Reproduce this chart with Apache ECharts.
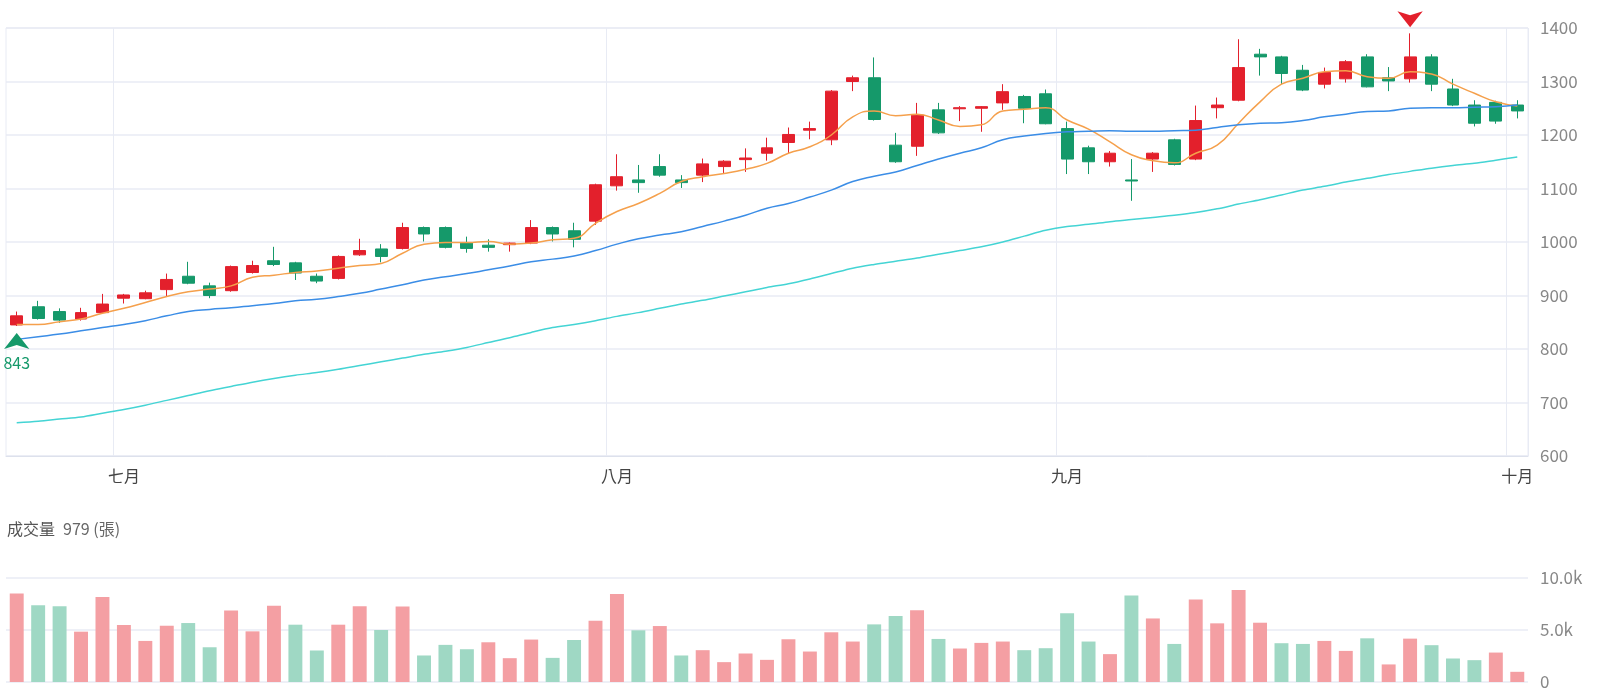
<!DOCTYPE html>
<html>
<head>
<meta charset="utf-8">
<script src="https://cdn.jsdelivr.net/npm/echarts@6/dist/echarts.min.js"></script>
<style>
  html, body { margin: 0; padding: 0; background: #fff; }
  #chart { width: 1600px; height: 700px; }
</style>
</head>
<body>
<div id="chart"></div>
<script>
// trading days, late June .. 1 Oct
const dates = [
  '2025-06-24', '2025-06-25', '2025-06-26', '2025-06-27', '2025-06-30',
  '2025-07-01', '2025-07-02', '2025-07-03', '2025-07-04', '2025-07-07', '2025-07-08', '2025-07-09', '2025-07-10',
  '2025-07-11', '2025-07-14', '2025-07-15', '2025-07-16', '2025-07-17', '2025-07-18', '2025-07-21', '2025-07-22',
  '2025-07-23', '2025-07-24', '2025-07-25', '2025-07-28', '2025-07-29', '2025-07-30', '2025-07-31',
  '2025-08-01', '2025-08-04', '2025-08-05', '2025-08-06', '2025-08-07', '2025-08-08', '2025-08-11', '2025-08-12',
  '2025-08-13', '2025-08-14', '2025-08-15', '2025-08-18', '2025-08-19', '2025-08-20', '2025-08-21', '2025-08-22',
  '2025-08-25', '2025-08-26', '2025-08-27', '2025-08-28', '2025-08-29',
  '2025-09-01', '2025-09-02', '2025-09-03', '2025-09-04', '2025-09-05', '2025-09-08', '2025-09-09', '2025-09-10',
  '2025-09-11', '2025-09-12', '2025-09-15', '2025-09-16', '2025-09-17', '2025-09-18', '2025-09-19', '2025-09-22',
  '2025-09-23', '2025-09-24', '2025-09-25', '2025-09-26', '2025-09-30',
  '2025-10-01'
]

// [open, close, low, high]
const kline = [
  [845, 862, 843, 870], [879, 857, 855, 890], [870, 854, 849, 876], [856, 868, 853, 877], [868, 884, 866, 903],
  [895, 901, 885, 903], [894, 905, 893, 909], [911, 930, 899, 941], [936, 923, 921, 963], [918, 900, 895, 924],
  [909, 954, 907, 956], [943, 956, 941, 965], [965, 958, 955, 991], [961, 942, 929, 963], [936, 927, 923, 941],
  [932, 973, 930, 975], [976, 984, 974, 1006], [987, 973, 962, 996], [988, 1027, 986, 1036], [1027, 1015, 1001, 1029],
  [1027, 990, 988, 1029], [998, 988, 980, 1010], [994, 990, 982, 1005], [995, 998, 982, 999], [998, 1027, 996, 1041],
  [1027, 1015, 1001, 1029], [1021, 1005, 990, 1036], [1039, 1107, 1032, 1109], [1105, 1122, 1096, 1164], [1116, 1111, 1092, 1144],
  [1141, 1125, 1122, 1164], [1116, 1111, 1101, 1125], [1125, 1146, 1112, 1156], [1141, 1151, 1128, 1153], [1154, 1157, 1131, 1175],
  [1166, 1176, 1152, 1195], [1186, 1201, 1166, 1214], [1209, 1212, 1192, 1225], [1191, 1282, 1181, 1284], [1300, 1307, 1282, 1311],
  [1307, 1229, 1227, 1345], [1181, 1150, 1148, 1204], [1179, 1237, 1161, 1260], [1247, 1204, 1202, 1260], [1249, 1251, 1226, 1254],
  [1250, 1253, 1206, 1254], [1260, 1281, 1247, 1295], [1272, 1250, 1222, 1275], [1277, 1221, 1220, 1285], [1212, 1155, 1127, 1225],
  [1176, 1150, 1127, 1180], [1150, 1166, 1141, 1170], [1116, 1114, 1077, 1155], [1155, 1166, 1131, 1168], [1191, 1145, 1143, 1193],
  [1155, 1227, 1153, 1255], [1251, 1256, 1231, 1270], [1265, 1326, 1263, 1379], [1351, 1346, 1311, 1361], [1346, 1315, 1295, 1348],
  [1321, 1284, 1282, 1331], [1295, 1317, 1287, 1326], [1305, 1337, 1298, 1340], [1346, 1290, 1289, 1351], [1307, 1301, 1282, 1327],
  [1305, 1346, 1298, 1390], [1346, 1295, 1282, 1351], [1286, 1256, 1254, 1305], [1256, 1222, 1216, 1265], [1261, 1226, 1221, 1264],
  [1256, 1245, 1231, 1265]
]

const ma5 = [
  846, 846, 851, 856, 867, 876, 887, 898, 907, 912,
  918, 934, 938, 943, 946, 951, 956, 960, 979, 996,
  999, 999, 1001, 996, 998, 1004, 1007, 1035, 1057, 1072,
  1091, 1113, 1122, 1128, 1136, 1147, 1166, 1178, 1200, 1234,
  1245, 1236, 1239, 1228, 1216, 1219, 1245, 1248, 1251, 1228,
  1211, 1187, 1163, 1152, 1148, 1166, 1181, 1222, 1262, 1295,
  1306, 1318, 1320, 1309, 1306, 1318, 1314, 1295, 1278, 1262, 1254
]
const ma20 = [
  818, 823, 828, 834, 840, 846, 853, 862, 870, 874,
  877, 881, 885, 890, 893, 898, 904, 912, 920, 929,
  935, 941, 948, 955, 963, 968, 974, 984, 996, 1006,
  1013, 1019, 1029, 1039, 1050, 1063, 1072, 1084, 1097, 1113,
  1123, 1131, 1143, 1155, 1166, 1176, 1191, 1198, 1203, 1206,
  1207, 1208, 1207, 1207, 1208, 1209, 1214, 1219, 1222, 1223,
  1227, 1234, 1239, 1244, 1245, 1250, 1251, 1251, 1252, 1253, 1256
]
const ma60 = [
  662, 665, 669, 673, 680, 687, 695, 704, 713, 722,
  730, 738, 745, 751, 756, 762, 769, 776, 783, 790,
  796, 803, 812, 821, 831, 840, 846, 853, 861, 868,
  876, 884, 891, 899, 907, 915, 922, 931, 941, 951,
  958, 964, 970, 977, 984, 991, 1000, 1011, 1022, 1029,
  1033, 1038, 1042, 1046, 1050, 1055, 1062, 1071, 1079, 1088,
  1097, 1104, 1112, 1119, 1126, 1132, 1138, 1143, 1147, 1153, 1159
]
const volumes = [
  8500, 7390, 7290, 4840, 8180, 5480, 3950, 5410, 5670, 3340,
  6880, 4870, 7320, 5510, 3030, 5510, 7290, 5000, 7260, 2550,
  3570, 3150, 3820, 2290, 4080, 2320, 4040, 5890, 8470, 4970,
  5380, 2550, 3060, 1910, 2740, 2130, 4110, 2930, 4780, 3890,
  5540, 6340, 6910, 4140, 3220, 3760, 3890, 3060, 3250, 6620,
  3890, 2680, 8310, 6110, 3660, 7930, 5640, 8850, 5700, 3730,
  3660, 3950, 2990, 4200, 1690, 4170, 3540, 2260, 2100, 2830, 979
]
const monthNames = ['一月', '二月', '三月', '四月', '五月', '六月', '七月', '八月', '九月', '十月', '十一月', '十二月']

const upColor = '#e3202c'
const downColor = '#15996a'
const volUp = '#f49fa3'
const volDown = '#9fd8c4'
const gridColor = '#e8ebf4'
const font = '"Noto Sans CJK TC", "Noto Sans", sans-serif'

const isMonthStart = (idx) => idx > 0 && dates[idx].slice(5, 7) !== dates[idx - 1].slice(5, 7)

// volume colour follows the change against the previous close
const volData = volumes.map((v, i) => {
  const up = i === 0 ? kline[i][1] >= kline[i][0] : kline[i][1] >= kline[i - 1][1]
  return { value: v, itemStyle: { color: up ? volUp : volDown } }
})

let myChart = echarts.init(document.getElementById('chart'))
let option = {
  animation: false,
  textStyle: { fontFamily: font },
  title: {
    text: '{a|成交量}  {b|' + volumes[volumes.length - 1] + ' (張)}',
    left: 2,
    top: 515,
    textStyle: {
      fontWeight: 'normal',
      rich: {
        a: { fontSize: 16, color: '#555', fontWeight: 'normal', fontFamily: font },
        b: { fontSize: 16, color: '#666', fontWeight: 'normal', fontFamily: font }
      }
    }
  },
  grid: [
    { left: 6, right: 72, top: 28, height: 428, show: true, borderColor: gridColor, borderWidth: 1 },
    { left: 6, right: 72, top: 578, height: 104 }
  ],
  xAxis: [
    {
      type: 'category',
      data: dates,
      gridIndex: 0,
      boundaryGap: true,
      axisLine: { lineStyle: { color: '#dde1ec' } },
      axisTick: { show: false },
      axisLabel: {
        interval: (idx) => isMonthStart(idx),
        formatter: (val) => monthNames[parseInt(val.slice(5, 7), 10) - 1],
        color: '#444',
        fontSize: 16,
        margin: 12
      },
      splitLine: {
        show: true,
        interval: (idx) => isMonthStart(idx),
        lineStyle: { color: gridColor }
      }
    },
    {
      type: 'category',
      data: dates,
      gridIndex: 1,
      boundaryGap: true,
      axisLine: { show: false },
      axisTick: { show: false },
      axisLabel: { show: false },
      splitLine: { show: false }
    }
  ],
  yAxis: [
    {
      type: 'value',
      gridIndex: 0,
      position: 'right',
      min: 600,
      max: 1400,
      interval: 100,
      axisLine: { show: false },
      axisTick: { show: false },
      axisLabel: { color: '#888', fontSize: 17, margin: 12, formatter: (v) => String(v) },
      splitLine: { lineStyle: { color: gridColor, width: 1.5 } }
    },
    {
      type: 'value',
      gridIndex: 1,
      position: 'right',
      min: 0,
      max: 10000,
      interval: 5000,
      axisLine: { show: false },
      axisTick: { show: false },
      axisLabel: {
        color: '#888',
        fontSize: 17,
        margin: 12,
        formatter: (v) => v === 0 ? '0' : (v / 1000).toFixed(1) + 'k'
      },
      splitLine: { lineStyle: { color: gridColor, width: 1.5 } }
    }
  ],
  series: [
    {
      name: 'K',
      type: 'candlestick',
      xAxisIndex: 0,
      yAxisIndex: 0,
      barWidth: '58%',
      data: kline,
      itemStyle: {
        color: upColor,
        color0: downColor,
        borderColor: upColor,
        borderColor0: downColor,
        borderWidth: 1
      },
      markPoint: {
        data: [
          {
            type: 'min',
            valueDim: 'lowest',
            symbol: 'arrow',
            symbolSize: [19, 16],
            symbolOffset: [0, 7],
            itemStyle: { color: downColor },
            label: {
              show: true,
              position: 'bottom',
              distance: 6,
              color: downColor,
              fontSize: 16,
              formatter: (p) => p.value
            }
          },
          {
            type: 'max',
            valueDim: 'highest',
            symbol: 'arrow',
            symbolRotate: 180,
            symbolSize: [19, 16],
            symbolOffset: [0, -6],
            itemStyle: { color: upColor },
            label: { show: false }
          }
        ]
      }
    },
    {
      name: 'MA5',
      type: 'line',
      data: ma5,
      symbol: 'none',
      smooth: true,
      lineStyle: { color: '#f5a04c', width: 1.5 }
    },
    {
      name: 'MA20',
      type: 'line',
      data: ma20,
      symbol: 'none',
      smooth: true,
      lineStyle: { color: '#3b8de6', width: 1.5 }
    },
    {
      name: 'MA60',
      type: 'line',
      data: ma60,
      symbol: 'none',
      smooth: 0.3,
      lineStyle: { color: '#44d4d4', width: 1.5 }
    },
    {
      name: '成交量',
      type: 'bar',
      xAxisIndex: 1,
      yAxisIndex: 1,
      barWidth: '65%',
      data: volData
    }
  ]
}
myChart.setOption(option)
</script>
</body>
</html>
